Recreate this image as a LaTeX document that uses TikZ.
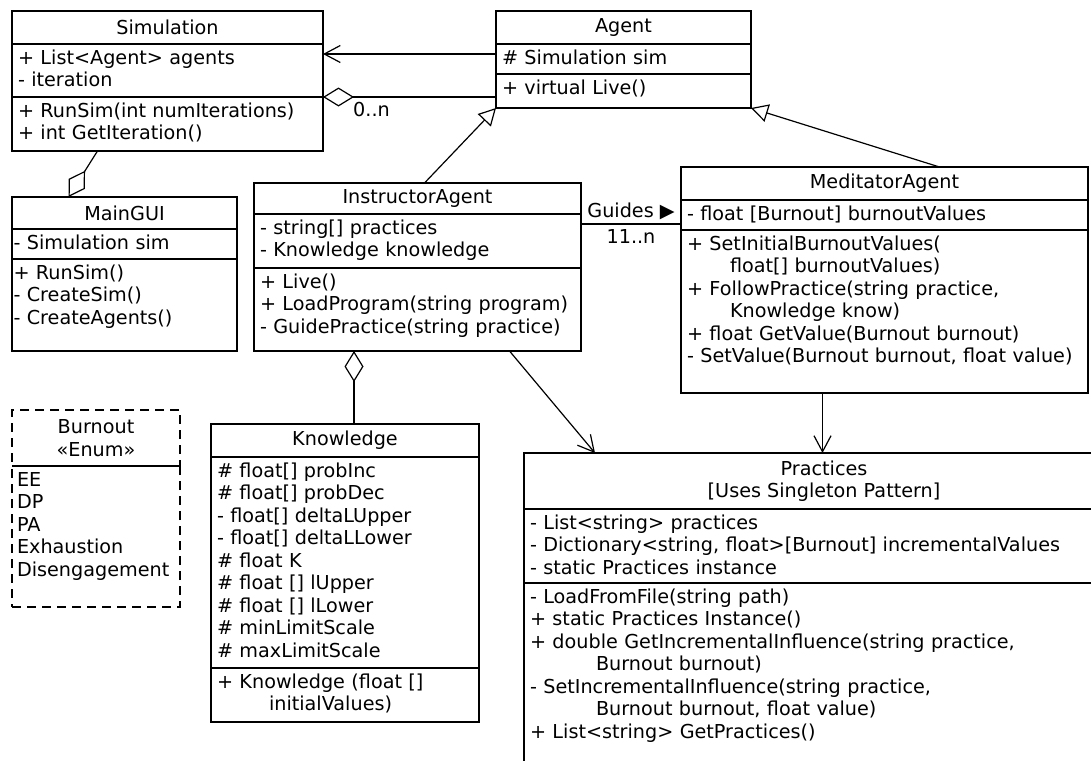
\documentclass[tikz,border=0pt]{standalone}
\usepackage{fontspec}
\setmainfont{DejaVu Sans}
\usetikzlibrary{arrows.meta}
\newcommand{\umlfont}{\fontsize{19.2}{22.5}\selectfont}

\begin{document}
\begin{tikzpicture}[x=1pt,y=-1pt]
		\begin{scope}
		
		\tikzstyle{classtitle}=[draw,
		line width=1.2pt,
		anchor=north west,
		inner sep=0pt,
		outer sep=0pt,
		align=center,
		font=\umlfont
		]
		\tikzstyle{classpart}=[draw,
		line width=1.2pt,
		anchor=north west,
		inner xsep=6pt,
		inner ysep=7pt,
		outer sep=0pt,
		align=left,
		text height=13pt,
		font=\umlfont
		]
		\tikzstyle{assoc}=[line width=1.2pt, -{Straight Barb[length=16pt,width=17pt]}]
		\tikzstyle{aggr}=[line width=1.2pt, {Diamond[open,length=31pt,width=19pt]}-]
		\tikzstyle{gener}=[line width=1.2pt, -{Triangle[open,length=17pt,width=18pt]}]
		\tikzstyle{plainlink}=[line width=1.2pt]
		\tikzstyle{mult}=[font=\umlfont, inner sep=0pt]
		\tikzstyle{enumline}=[dash pattern=on 9pt off 6pt]
		
		\useasboundingbox (0,0) rectangle (1091,760);
		\clip (0,0) rectangle (1091,760);
		
		\coordinate (psim) at (12, 11);
		\coordinate (pagent) at (496, 11);
		\coordinate (pmgui) at (12, 197);
		\coordinate (pinstr) at (254, 183);
		\coordinate (pmedi) at (681, 167);
		\coordinate (pburn) at (12, 410);
		\coordinate (pknow) at (211, 424);
		\coordinate (pprac) at (524, 453);
		
		% classes
		\node[classtitle, minimum width=311pt, minimum height=33pt] (sim-t) at (psim) {Simulation};
		\node[classpart, text width=299pt, text depth=26pt] (sim-a) at (sim-t.south west) {+ List<Agent> agents\\- iteration};
		\node[classpart, text width=299pt, text depth=27pt] (sim-m) at (sim-a.south west) {+ RunSim(int numIterations)\\+ int GetIteration()};
		
		\node[classtitle, minimum width=255pt, minimum height=33pt] (agent-t) at (pagent) {Agent};
		\node[classpart, text width=243pt, text depth=3pt] (agent-a) at (agent-t.south west) {\# Simulation sim};
		\node[classpart, text width=243pt, text depth=7pt] (agent-m) at (agent-a.south west) {+ virtual Live()};
		
		\node[classtitle, minimum width=225pt, minimum height=32pt] (mgui-t) at (pmgui) {MainGUI};
		\node[classpart, inner xsep=1.5pt, text width=222pt, text depth=3pt] (mgui-a) at (mgui-t.south west) {- Simulation sim};
		\node[classpart, inner xsep=1.5pt, text width=222pt, text depth=65pt] (mgui-m) at (mgui-a.south west) {+ RunSim()\\- CreateSim()\\- CreateAgents()};
		
		\node[classtitle, minimum width=327pt, minimum height=31pt] (instr-t) at (pinstr) {InstructorAgent};
		\node[classpart, text width=315pt, text depth=27pt] (instr-a) at (instr-t.south west) {- string[] practices\\- Knowledge knowledge};
		\node[classpart, text width=315pt, text depth=56pt] (instr-m) at (instr-a.south west) {+ Live()\\+ LoadProgram(string program)\\- GuidePractice(string practice)};
		
		\node[classtitle, minimum width=407pt, minimum height=33pt] (medi-t) at (pmedi) {MeditatorAgent};
		\node[classpart, text width=395pt, text depth=3pt] (medi-a) at (medi-t.south west) {- float [Burnout] burnoutValues};
		\node[classpart, text width=395pt, text depth=136pt] (medi-m) at (medi-a.south west) {+ SetInitialBurnoutValues(\\\hspace*{43pt}float[] burnoutValues)\\+ FollowPractice(string practice,\\\hspace*{43pt}Knowledge know)\\+ float GetValue(Burnout burnout)\\- SetValue(Burnout burnout, float value)};
		
		\node[classtitle, enumline, minimum width=168pt, minimum height=56pt] (burn-t) at (pburn) {Burnout\\«Enum»};
		\node[classpart, enumline, inner xsep=5pt, text width=158pt, text depth=114pt] (burn-a) at (burn-t.south west) {EE\\DP\\PA\\Exhaustion\\Disengagement};
		\draw[line width=1.2pt] (burn-t.south west) -- (burn-t.south east);
		
		\node[classtitle, minimum width=268pt, minimum height=33pt] (know-t) at (pknow) {Knowledge};
		\node[classpart, text width=256pt, text depth=184pt] (know-a) at (know-t.south west) {\# float[] probInc\\\# float[] probDec\\- float[] deltaLUpper\\- float[] deltaLLower\\\# float K\\\# float [] lUpper\\\# float [] lLower\\\# minLimitScale\\\# maxLimitScale};
		\node[classpart, text width=256pt, text depth=27pt] (know-m) at (know-a.south west) {+ Knowledge (float []\\\hspace*{52pt}initialValues)};
		
		\node[classtitle, minimum width=600pt, minimum height=56pt] (prac-t) at (pprac) {Practices\\{[}Uses Singleton Pattern{]}};
		\node[classpart, text width=588pt, text depth=47pt] (prac-a) at (prac-t.south west) {- List<string> practices\\- Dictionary<string, float>[Burnout] incrementalValues\\- static Practices instance};
		\node[classpart, text width=588pt, text depth=173pt] (prac-m) at (prac-a.south west) {- LoadFromFile(string path)\\+ static Practices Instance()\\+ double GetIncrementalInfluence(string practice,\\\hspace*{66pt}Burnout burnout)\\- SetIncrementalInfluence(string practice,\\\hspace*{66pt}Burnout burnout, float value)\\+ List<string> GetPractices()};
		
		% relations
		\coordinate (a1) at ([yshift=5pt]agent-a.west);
		\draw[assoc] (a1) -- (a1 -| sim-a.east);
		\draw[aggr] (sim-m.north east) -- (sim-m.north east -| agent-m.west);
		\node[mult, anchor=west] (mult-sim) at ([xshift=30pt,yshift=-13pt]sim-m.north east) {0..n};
		
		\draw[aggr] ([xshift=-56pt]mgui-t.north) -- ([xshift=-70pt]sim-m.south);
		
		\draw[gener] ([xshift=7pt]instr-t.north) -- (agent-m.south west);
		\draw[gener] ([xshift=55pt]medi-t.north) -- (agent-m.south east);
		
		\coordinate (g1) at ([yshift=-10pt]instr-a.north east);
		\draw[plainlink] (g1) -- node[mult, above=4pt] (guides) {Guides ▶} node[mult, below=5pt] (mult-medi) {11..n} (g1 -| medi-a.west);
		
		\coordinate (k1) at ([xshift=9pt]know-t.north);
		\draw[aggr] (k1 |- instr-m.south) -- (k1);
		
		\draw[assoc] ([xshift=92pt]instr-m.south) -- ([xshift=71pt]prac-t.north west);
		\coordinate (m1) at ([xshift=-62pt]medi-m.south);
		\draw[assoc] (m1) -- (m1 |- prac-t.north);
		
		\end{scope}
		\end{tikzpicture}
\end{document}
